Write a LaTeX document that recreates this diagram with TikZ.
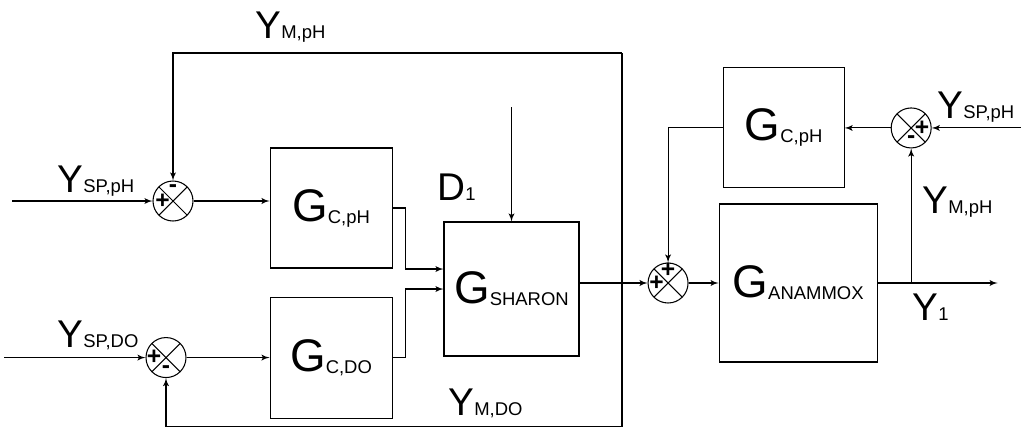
\documentclass[tikz,border=0pt]{standalone}
\usepackage{fontspec}
\setmainfont{Liberation Sans}
\usetikzlibrary{arrows, positioning, calc}

\newcommand{\gsub}[1]{{\fontsize{26}{26}\selectfont G}\raisebox{-0.04cm}{\fontsize{10.5}{10.5}\selectfont #1}}
\newcommand{\vsub}[2]{{\fontsize{22}{22}\selectfont #1}{\fontsize{10.5}{10.5}\selectfont #2}}

\begin{document}
\begin{tikzpicture}[auto, line width=0.6pt,
    box/.style={rectangle, draw, minimum width=2.44cm, minimum height=2.4cm, inner sep=0},
    sumjn/.style={circle, draw, minimum size=0.8cm, inner sep=0, path picture={
        \draw (path picture bounding box.north west) -- (path picture bounding box.south east)
              (path picture bounding box.north east) -- (path picture bounding box.south west);}},
    sgn/.style={inner sep=0, font=\fontsize{14}{14}\selectfont\bfseries},
    lbl/.style={anchor=base west, inner sep=0},
    line/.style={draw, -latex'}]
    \useasboundingbox (0,0) rectangle (20.42,8.56);
    % blocks and summing points
    \node [sumjn] (sumph) at (3.46,4.54) {};
    \node [box, right=1.52cm of sumph, yshift=-0.14cm] (ctrlph) {\gsub{C,pH}};
    \node [box, minimum height=2.42cm, below=0.56cm of ctrlph] (ctrldo) {\gsub{C,DO}};
    \node [sumjn, left=1.66cm of ctrldo] (sumdo) {};
    \node [box, minimum width=2.7cm, minimum height=2.68cm] (sharon) at (10.23,2.78) {\gsub{SHARON}};
    \node [sumjn, right=1.36cm of sharon, yshift=0.12cm] (sumin) {};
    \node [box, minimum width=3.16cm, minimum height=3.16cm, right=0.6cm of sumin] (anammox) {\gsub{ANAMMOX}};
    \node [box, minimum width=2.42cm, above=0.3cm of anammox, xshift=-0.29cm] (ctrlph2) {\gsub{C,pH}};
    \node [sumjn, right=0.92cm of ctrlph2] (sumsp) {};
    % signs
    \node [sgn] (sumph-a) at ([yshift=0.24cm]sumph.center) {-};
    \node [sgn] (sumph-b) at ([xshift=-0.21cm]sumph.center) {+};
    \node [sgn] (sumdo-a) at ([xshift=-0.24cm]sumdo.center) {+};
    \node [sgn] (sumdo-b) at ([yshift=-0.24cm]sumdo.center) {-};
    \node [sgn] (sumin-a) at ([yshift=0.25cm]sumin.center) {+};
    \node [sgn] (sumin-b) at ([xshift=-0.23cm]sumin.center) {+};
    \node [sgn] (sumsp-a) at ([xshift=0.22cm]sumsp.center) {+};
    \node [sgn] (sumsp-b) at ([yshift=-0.24cm]sumsp.center) {-};
    % signal labels
    \node [lbl] (ymph) at (5.1,7.8) {\vsub{Y}{M,pH}};
    \node [lbl] (ysph) at (1.14,4.72) {\vsub{Y}{SP,pH}};
    \node [lbl] (ysdo) at (1.14,1.62) {\vsub{Y}{SP,DO}};
    \node [lbl] (dlbl) at (8.74,4.56) {\vsub{D}{1}};
    \node [lbl] (ymdo) at (8.96,0.26) {\vsub{Y}{M,DO}};
    \node [lbl] (yone) at (18.24,2.16) {\vsub{Y}{1}};
    \node [lbl] (ymph2) at (18.44,4.3) {\vsub{Y}{M,pH}};
    \node [lbl] (ysph2) at (18.74,6.2) {\vsub{Y}{SP,pH}};
    % free ends
    \coordinate [left=2.8cm of sumph] (inph);
    \coordinate [left=2.82cm of sumdo] (indo);
    \coordinate [right=1.84cm of sumsp] (insp);
    \coordinate [right=2.4cm of anammox] (yout);
    \coordinate [above=2.28cm of sharon] (dist);
    \coordinate (fbtop) at (12.44,7.5);
    \coordinate (fbbot) at (12.44,0.03);
    % connections
    \path [line] (inph) -- (sumph);
    \path [line] (sumph) -- (sumph -| ctrlph.west);
    \path [line] (indo) -- (sumdo);
    \path [line] (sumdo) -- (sumdo -| ctrldo.west);
    \path [line] (ctrlph.east) -- ++(0.26,0) |- ([yshift=0.4cm]sharon.west);
    \path [line] (ctrldo.east) -- ++(0.26,0) |- (sharon.west);
    \path [line] (dist) -- (sharon);
    \path [line] (sharon.east |- sumin) -- (sumin);
    \path [line] (sumin) -- (sumin -| anammox.west);
    \path [line] (anammox) -- (yout);
    \path [line] (sumsp |- yout) -- (sumsp);
    \path [line] (insp) -- (sumsp);
    \path [line] (sumsp) -- (ctrlph2);
    \path [line] (ctrlph2) -| (sumin);
    \draw (fbtop) -- (fbbot);
    \path [line] (fbtop) -| (sumph);
    \path [line] (fbbot) -| (sumdo);
\end{tikzpicture}
\end{document}
